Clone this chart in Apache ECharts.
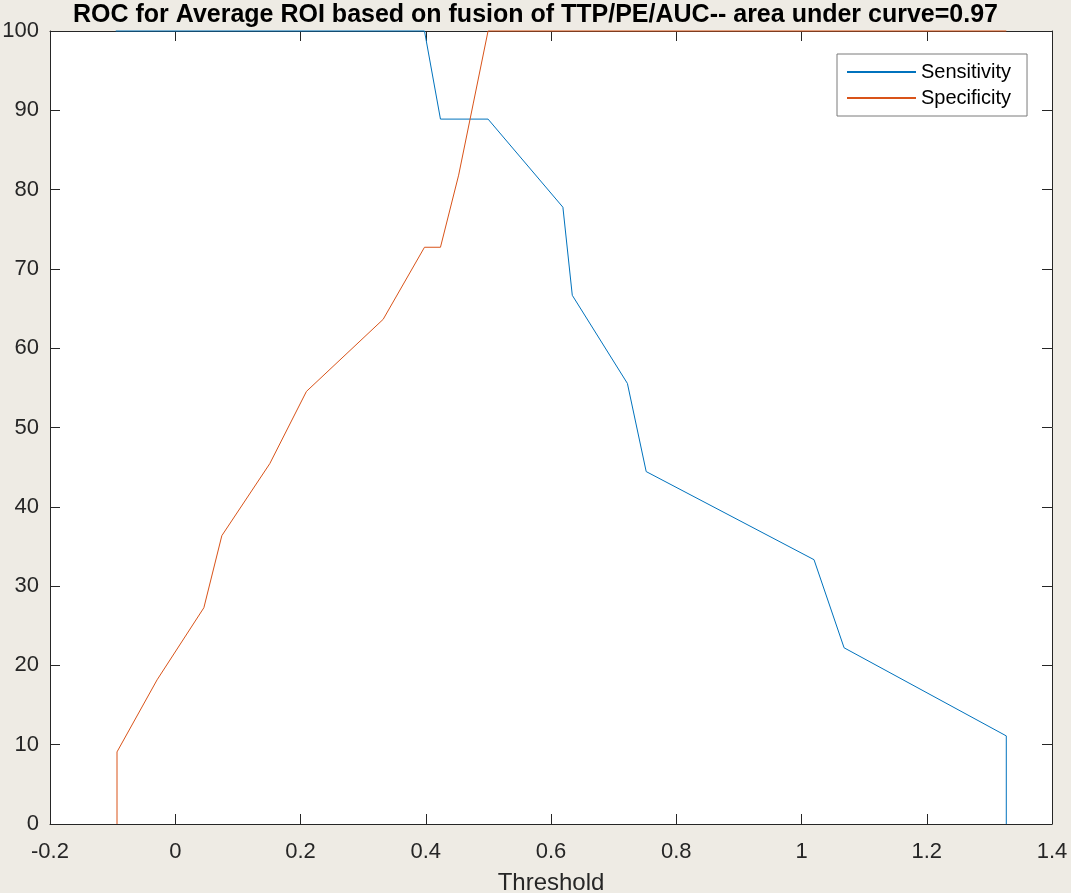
<!DOCTYPE html>
<html>
<head>
<meta charset="utf-8">
<script src="https://cdn.jsdelivr.net/npm/echarts@6/dist/echarts.min.js"></script>
<style>
html,body{margin:0;padding:0;background:#EEEBE4;}
#chart{width:1071px;height:893px;}
</style>
</head>
<body>
<div id="chart"></div>
<script>
var titleText = 'ROC for Average ROI based on fusion of TTP/PE/AUC-- area under curve=0.97';
var xAxisName = 'Threshold';
var seriesNames = ['Sensitivity', 'Specificity'];

var sensX = [-0.095, 0.398, 0.4235, 0.4995, 0.619, 0.634, 0.722, 0.752, 1.020, 1.068, 1.327, 1.327];
var sensY = [100, 100, 88.89, 88.89, 77.78, 66.67, 55.56, 44.44, 33.33, 22.22, 11.11, 0];

var specX = [-0.093, -0.093, -0.029, 0.0457, 0.0744, 0.151, 0.2095, 0.332, 0.398, 0.4235, 0.4525, 0.476, 0.4995, 1.327];
var specY = [0, 9.09, 18.18, 27.27, 36.36, 45.45, 54.55, 63.64, 72.73, 72.73, 81.82, 90.91, 100, 100];

function zip(xs, ys) { return xs.map(function (x, i) { return [x, ys[i]]; }); }

var FONT = '"Liberation Sans", Arial, Helvetica, sans-serif';
var AX = '#262626';

var chart = echarts.init(document.getElementById('chart'), null, {renderer: 'canvas'});
var baseX = {
  type: 'value', min: -0.2, max: 1.4, interval: 0.2,
  splitLine: {show: false},
  axisLine: {show: true, onZero: false, lineStyle: {color: AX, width: 1}},
  axisTick: {show: true, inside: true, length: 10, lineStyle: {color: AX}}
};
var baseY = {
  type: 'value', min: 0, max: 100, interval: 10,
  splitLine: {show: false},
  axisLine: {show: true, onZero: false, lineStyle: {color: AX, width: 1}},
  axisTick: {show: true, inside: true, length: 10, lineStyle: {color: AX}}
};
chart.setOption({
  backgroundColor: '#EEEBE4',
  animation: false,
  title: {
    text: titleText, left: 'center', top: -2,
    textStyle: {fontFamily: FONT, fontSize: 25, fontWeight: 'bold', color: '#000'}
  },
  grid: {left: 50, right: 19, top: 31, bottom: 69, show: true, backgroundColor: '#fff', borderWidth: 0,
         containLabel: false, outerBoundsMode: 'none'},
  legend: {
    orient: 'vertical', left: 837, top: 54,
    padding: [8, 16, 8, 10],
    backgroundColor: '#fff', borderColor: '#7a7a7a', borderWidth: 1,
    itemWidth: 69, itemHeight: 2, itemGap: 6, icon: 'rect',
    textStyle: {fontFamily: FONT, fontSize: 20, color: '#000', lineHeight: 20},
    data: seriesNames
  },
  xAxis: [
    Object.assign({}, baseX, {
      position: 'bottom',
      name: xAxisName, nameLocation: 'middle', nameGap: 47,
      nameTextStyle: {fontFamily: FONT, fontSize: 24, color: '#262626'},
      axisLabel: {fontFamily: FONT, fontSize: 22, color: '#262626', margin: 17,
        formatter: function (v) { return String(Math.round(v * 10) / 10); }}
    }),
    Object.assign({}, baseX, {position: 'top', axisLabel: {show: false}})
  ],
  yAxis: [
    Object.assign({}, baseY, {
      position: 'left',
      axisLabel: {fontFamily: FONT, fontSize: 22, color: '#262626', margin: 11}
    }),
    Object.assign({}, baseY, {position: 'right', axisLabel: {show: false}})
  ],
  series: [
    {name: seriesNames[0], type: 'line', data: zip(sensX, sensY), showSymbol: false, symbol: 'none',
     clip: false, color: '#0072BD', lineStyle: {width: 1, color: '#0072BD'}},
    {name: seriesNames[1], type: 'line', data: zip(specX, specY), showSymbol: false, symbol: 'none',
     clip: false, color: '#D95319', lineStyle: {width: 1, color: '#D95319'}}
  ]
});
</script>
</body>
</html>
